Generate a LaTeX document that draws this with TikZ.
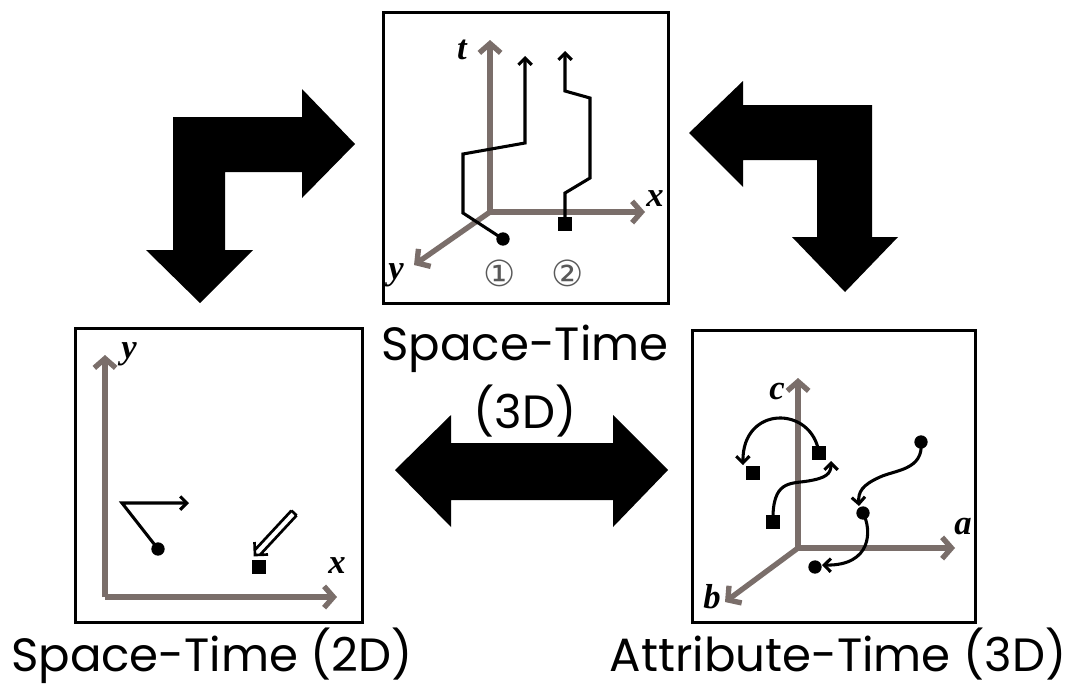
\documentclass[tikz,border=0pt]{standalone}
\usepackage{fontspec}
\setmainfont{Poppins}
\newfontfamily\labfont{Liberation Serif}
\newfontfamily\symfont{DejaVu Sans}
\usetikzlibrary{arrows.meta}
\definecolor{axisgray}{RGB}{122,110,106}
\tikzset{
  panel/.style={draw=black, line width=2.25pt, inner sep=0pt, fill=white},
  axis/.style={draw=axisgray, line width=4pt, -{Straight Barb[length=7pt,width=16pt]}},
  traj/.style={draw=black, line width=2.3pt, line join=miter, -{Straight Barb[length=5pt,width=10pt]}},
  plain/.style={draw=black, line width=2pt},
  bigarrow/.style={fill=black, draw=none},
  axlab/.style={font=\labfont\bfseries\itshape\fontsize{26}{28}\selectfont, inner sep=0pt},
  title/.style={font=\fontsize{35}{40}\selectfont, inner sep=0pt, anchor=base},
  dotm/.style={circle, fill=black, inner sep=0pt, minimum size=10pt},
  sqm/.style={rectangle, fill=black, inner sep=0pt, minimum size=10pt},
  num/.style={font=\symfont\fontsize{27}{29}\selectfont, text=black!65, inner sep=0pt}
}
\begin{document}
\begin{tikzpicture}[x=0.75pt,y=-0.75pt]
\useasboundingbox (0,0) rectangle (1069,686);

% big arrows
\path[bigarrow] (173,117) -- (302,117) -- (302,89) -- (355,144) -- (302,198) -- (302,172)
  -- (225,172) -- (225,250) -- (253,250) -- (200,303) -- (146,250) -- (173,250) -- cycle;
\path[bigarrow] (689,133) -- (743,81) -- (743,105) -- (872,105) -- (872,237) -- (898,237)
  -- (845,292) -- (792,237) -- (817,237) -- (817,160) -- (743,160) -- (743,187) -- cycle;
\path[bigarrow] (395,470) -- (451,415) -- (451,443) -- (613,443) -- (613,415) -- (668,470)
  -- (613,527) -- (613,500) -- (451,500) -- (451,527) -- cycle;

% panels
\node[panel, minimum width=213.75pt, minimum height=218.25pt] (top) at (525.5,157.5) {};
\node[panel, minimum width=215.25pt, minimum height=220.5pt] (left) at (218.5,475) {};
\node[panel, minimum width=212.25pt, minimum height=219pt] (right) at (833.5,476) {};

% titles
\node[title] (t1) at (525,360) {Space-Time};
\node[title] (t2) at (525,428) {(3D)};
\node[title] (t3) at (212,671) {Space-Time (2D)};
\node[title] (t4) at (838,671) {Attribute-Time (3D)};

% ---- top panel: space-time 3D
\coordinate (o1) at (490,212);
\coordinate (t1e) at (490,40);
\coordinate (x1e) at (645,212);
\coordinate (y1e) at (414,265);
\draw[axis] (o1) -- (t1e);
\draw[axis] (o1) -- (x1e);
\draw[axis] (o1) -- (y1e);
\node[axlab] (lt) at (462,50) {t};
\node[axlab] (lx) at (655,199) {x};
\node[axlab] (ly) at (396,275) {y};
\node[dotm] (d1) at (503,239) {};
\node[sqm] (s1) at (565,224) {};
\coordinate (p1e) at (525,56);
\coordinate (p2e) at (565,51);
\draw[traj] (d1.center) -- (463,213) -- (463,154) -- (525,143) -- (p1e);
\draw[traj] (s1.center) -- (565,193) -- (590,178) -- (590,98) -- (565,91) -- (p2e);
\node[num] (n1) at (500,273) {①};
\node[num] (n2) at (568,273) {②};

% ---- left panel: space-time 2D
\coordinate (o2) at (105,597);
\coordinate (y2e) at (105,355);
\coordinate (x2e) at (337,597);
\draw[axis] (o2) -- (y2e);
\draw[axis] (o2) -- (x2e);
\node[axlab] (ly2) at (129,354) {y};
\node[axlab] (lx2) at (337,566) {x};
\node[dotm] (d2) at (158,549) {};
\coordinate (a2e) at (189,503);
\draw[traj] (d2.center) -- (122,503) -- (a2e);
\node[sqm] (s2) at (259,567) {};
% hollow arrow
\draw[plain, line join=miter] (296.6,515.4) -- (260.3,554.5)
  (291.4,510.6) -- (255.1,549.7)
  (296.6,515.4) -- (291.4,510.6)
  (268,554.5) -- (255,555) -- (254.5,542);

% ---- right panel: attribute-time 3D
\coordinate (o3) at (798,548);
\coordinate (c3e) at (798,378);
\coordinate (a3e) at (955,548);
\coordinate (b3e) at (725,602);
\draw[axis] (o3) -- (c3e);
\draw[axis] (o3) -- (a3e);
\draw[axis] (o3) -- (b3e);
\node[axlab] (lc) at (777,391) {c};
\node[axlab] (la) at (963,527) {a};
\node[axlab] (lb) at (712,597) {b};
\node[sqm] (q1) at (753,473) {};
\node[sqm] (q2) at (819,453) {};
\node[sqm] (q3) at (773,522) {};
\node[dotm] (e1) at (921,442) {};
\node[dotm] (e2) at (863,513) {};
\node[dotm] (e3) at (815,567) {};
\coordinate (r1) at (743,465);
\coordinate (r2) at (831,461);
\coordinate (r3) at (859,506);
\coordinate (r4) at (822,565);
\draw[traj] (q2.center) .. controls (812,405) and (742,405) .. (r1);
\draw[traj] (q3.center) .. controls (772,480) and (790,484) .. (808,481)
  .. controls (826,478) and (831,474) .. (r2);
\draw[traj] (e1.center) .. controls (924,470) and (895,470) .. (880,477)
  .. controls (862,485) and (858,492) .. (r3);
\draw[traj] (e2.center) .. controls (872,530) and (872,566) .. (r4);
\end{tikzpicture}
\end{document}
